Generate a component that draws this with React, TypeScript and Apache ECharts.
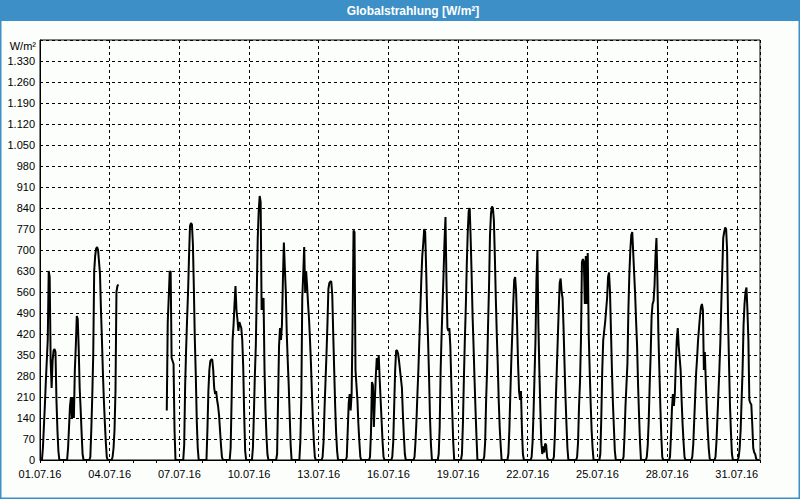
import React, { useEffect, useRef } from "react";
import * as echarts from "echarts";

const N = null;

const chartTitle = "Globalstrahlung [W/m²]";
const unitLabel = "W/m²";
const monthSuffix = ".07.16";
const dayCount = 31;
const yMax = 1400;
const yStep = 70;
const labelEveryDays = 3;

// hourly values (h0..h23) for each day of July 2016, W/m²
const day01 = [0,0,0,40,110,180,260,330,400,630,610,330,240,330,365,370,360,200,100,30,0,0,0,0];
const day02 = [0,0,0,0,0,40,110,180,210,140,210,140,300,380,480,470,370,240,170,90,20,0,0,0];
const day03 = [0,0,0,0,10,100,211,350,630,680,705,710,700,660,620,500,400,290,200,125,60,10,0,0];
const day04 = [0,0,0,10,40,100,230,560,580,585,N,N,N,N,N,N,N,N,N,N,N,N,N,N];
const day05 = [N,N,N,N,N,N,N,N,N,N,N,N,N,N,N,N,N,N,N,N,N,N,N,N];
const day06 = [N,N,N,N,N,N,N,N,N,N,N,165,460,540,625,630,340,330,320,100,0,0,0,0];
const day07 = [0,0,0,0,0,50,250,370,470,560,680,780,790,785,720,570,400,280,130,40,0,0,0,0];
const day08 = [0,0,0,0,0,100,230,300,330,335,335,300,240,220,230,200,180,150,100,50,10,0,0,0];
const day09 = [0,0,0,0,0,40,200,400,450,520,580,500,470,430,460,450,440,400,310,150,30,0,0,0];
const day10 = [0,0,0,0,40,150,280,380,560,740,830,880,860,500,530,540,300,170,80,20,0,0,0,0];
const day11 = [0,0,0,0,0,20,200,380,440,400,450,600,725,640,560,420,330,250,150,50,0,0,0,0];
const day12 = [0,0,0,0,0,60,200,540,620,710,560,630,580,520,470,400,320,220,130,60,10,0,0,0];
const day13 = [0,0,0,0,10,60,170,260,350,450,570,590,595,595,550,420,300,180,90,30,0,0,0,0];
const day14 = [0,0,0,0,0,10,100,190,220,165,220,450,765,760,300,250,200,120,60,10,0,0,0,0];
const day15 = [0,0,0,0,0,10,90,260,250,110,200,280,340,300,350,270,200,130,60,10,0,0,0,0];
const day16 = [0,0,0,0,10,60,180,300,365,365,355,330,300,270,240,150,80,20,0,0,0,0,0,0];
const day17 = [0,0,0,10,60,130,220,300,400,500,600,680,720,770,760,640,500,400,280,140,50,0,0,0];
const day18 = [0,0,0,0,20,110,300,420,520,620,730,810,600,440,430,440,380,260,160,60,0,0,0,0];
const day19 = [0,0,0,0,20,120,270,400,510,650,760,830,840,740,620,480,380,270,170,80,0,0,0,0];
const day20 = [0,0,0,10,60,200,300,450,580,750,820,845,840,800,680,540,420,320,200,110,50,0,0,0];
const day21 = [0,0,0,0,20,100,220,330,420,520,600,610,560,450,320,230,200,230,100,20,0,0,0,0];
const day22 = [0,0,0,0,10,60,160,280,400,600,700,450,300,170,60,20,45,25,55,50,10,0,0,0];
const day23 = [0,0,0,10,80,200,300,400,500,590,605,560,540,440,320,210,120,40,0,0,0,0,0,0];
const day24 = [0,0,0,10,60,180,260,400,660,670,660,520,680,520,690,420,300,190,100,40,0,0,0,0];
const day25 = [0,0,0,20,140,300,400,430,460,500,540,610,625,560,430,300,190,110,30,0,0,0,0,0];
const day26 = [0,0,0,10,80,180,250,320,500,620,700,750,760,690,620,550,460,380,250,150,60,0,0,0];
const day27 = [0,0,0,10,50,130,250,350,480,520,530,580,680,740,600,420,300,180,80,10,0,0,0,0];
const day28 = [0,0,0,10,80,170,220,180,220,320,400,440,380,340,300,200,120,60,10,0,0,0,0,0];
const day29 = [0,0,10,50,130,210,290,340,400,440,480,510,520,500,300,360,260,170,100,40,5,0,0,0];
const day30 = [0,0,10,60,140,220,300,390,520,630,740,760,775,770,700,470,320,180,90,20,0,0,0,0];
const day31 = [0,0,10,40,100,200,300,450,520,560,575,500,400,200,190,185,120,40,25,20,5,0,0,0];

const days = [
  day01, day02, day03, day04, day05, day06, day07, day08, day09, day10,
  day11, day12, day13, day14, day15, day16, day17, day18, day19, day20,
  day21, day22, day23, day24, day25, day26, day27, day28, day29, day30, day31,
];

const BLUE = "#3d8fc7";

function fmtY(v: number): string {
  if (v >= yMax) return "";
  if (v >= 1000) {
    const k = Math.floor(v / 1000);
    const r = String(v % 1000).padStart(3, "0");
    return `${k}.${r}`;
  }
  return String(v);
}

function fmtX(v: number): string {
  const d = Math.round(v);
  if (Math.abs(v - d) > 1e-6) return "";
  if (d % labelEveryDays !== 0 || d >= dayCount) return "";
  return String(d + 1).padStart(2, "0") + monthSuffix;
}

export default function App() {
  const ref = useRef<HTMLDivElement>(null);
  useEffect(() => {
    document.body.style.margin = "0";
    const chart = echarts.init(ref.current!, null, { renderer: "svg" });
    const data: any[] = [];
    days.forEach((vals, d) => {
      vals.forEach((v, h) => {
        data.push([d + h / 24, v === null ? "-" : v]);
      });
    });
    chart.setOption({
      animation: false,
      backgroundColor: "#fcfefc",
      textStyle: { fontFamily: "Liberation Sans" },
      grid: {
        left: 40,
        top: 40,
        width: 720,
        height: 420,
        show: true,
        borderColor: "#000",
        borderWidth: 1,
        backgroundColor: "transparent",
      },
      xAxis: [
        {
          type: "value",
          min: 0,
          max: dayCount,
          interval: 1,
          axisLine: { show: true, lineStyle: { color: "#000", width: 1 } },
          axisTick: { show: true, length: 3, lineStyle: { color: "#000" } },
          axisLabel: {
            color: "#000",
            fontSize: 11,
            fontFamily: "Liberation Sans",
            margin: 8,
            formatter: fmtX,
          },
          splitLine: { show: false },
        },
        {
          type: "value",
          min: 0,
          max: dayCount,
          interval: labelEveryDays,
          axisLine: { show: false },
          axisTick: { show: false },
          axisLabel: { show: false },
          splitLine: {
            show: true,
            lineStyle: { color: "#000", width: 1, type: [3, 3] },
          },
        },
      ],
      yAxis: {
        type: "value",
        min: 0,
        max: yMax,
        interval: yStep,
        axisLine: { show: true, lineStyle: { color: "#000", width: 1 } },
        axisTick: { show: false },
        axisLabel: {
          color: "#000",
          fontSize: 11,
          fontFamily: "Liberation Sans",
          margin: 5,
          formatter: fmtY,
        },
        splitLine: {
          show: true,
          lineStyle: { color: "#000", width: 1, type: [3, 3] },
        },
      },
      series: [
        {
          type: "line",
          xAxisIndex: 0,
          data,
          showSymbol: false,
          symbol: "none",
          connectNulls: false,
          lineStyle: { color: "#000", width: 2 },
          itemStyle: { color: "#000" },
        },
      ],
      graphic: [
        {
          type: "rect",
          shape: { x: 0, y: 0, width: 800, height: 21 },
          style: { fill: BLUE },
          silent: true,
        },
        {
          type: "rect",
          shape: { x: 0.75, y: 0.75, width: 798.5, height: 497.5 },
          style: { fill: "none", stroke: BLUE, lineWidth: 1.5 },
          silent: true,
        },
        {
          type: "text",
          x: 413,
          y: 11,
          style: {
            text: chartTitle,
            fill: "#fff",
            font: "bold 12px 'Liberation Sans'",
            textAlign: "center",
            textVerticalAlign: "middle",
          },
          silent: true,
        },
        {
          type: "text",
          x: 36,
          y: 46,
          style: {
            text: unitLabel,
            fill: "#000",
            font: "11px 'Liberation Sans'",
            textAlign: "right",
            textVerticalAlign: "middle",
          },
          silent: true,
        },
      ],
    });
    return () => chart.dispose();
  }, []);
  return <div ref={ref} style={{ width: 800, height: 500 }} />;
}
